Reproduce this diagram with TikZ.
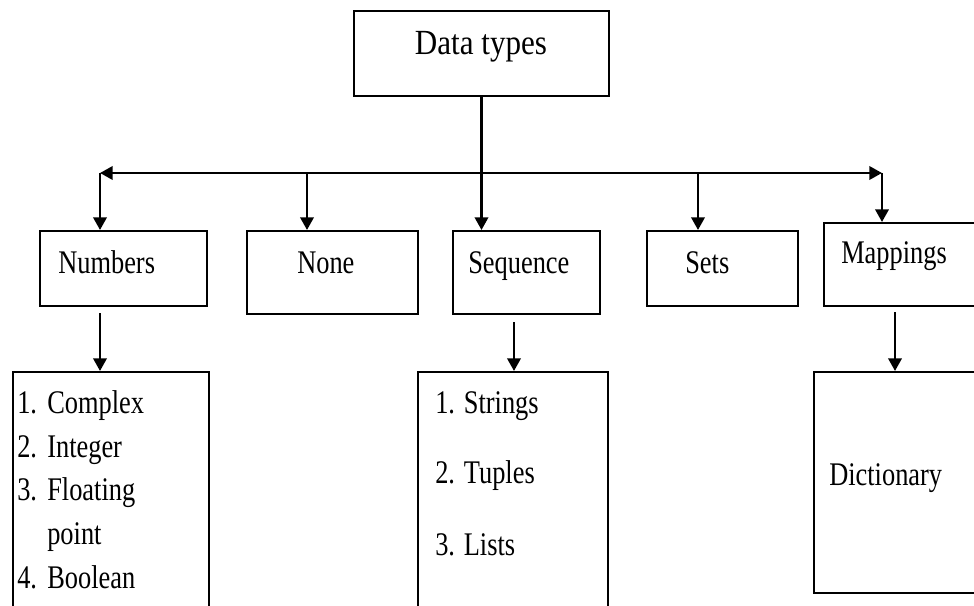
\documentclass[tikz,border=0pt]{standalone}
\usepackage{fontspec}
\setmainfont[FakeStretch=0.8]{Liberation Serif}
\newfontfamily\titlefont[FakeStretch=0.88]{Liberation Serif}
\usetikzlibrary{arrows.meta,positioning}

\tikzset{
  box/.style 2 args={draw, line width=1.5pt, inner sep=0pt, anchor=north west,
                     minimum width=#1*0.75pt, minimum height=#2*0.75pt},
  arr/.style={line width=1.9pt, -{Triangle[length=9.5pt,width=10pt]}},
  lbl/.style={anchor=base west, inner sep=0pt, font=\fontsize{24.75}{29}\selectfont},
}

\begin{document}
\begin{tikzpicture}[x=0.75pt, y=-0.75pt]
  \clip (0,0) rectangle (974,606);

  % root
  \node[box={255}{85}] (dt) at (353,10) {};
  \node[lbl, anchor=base, font=\titlefont\fontsize{26.5}{32}\selectfont] (dtt) at (481,55) {Data types};

  % second level
  \node[box={167}{75}] (num) at (39,230) {};
  \node[box={171}{83}] (none) at (246,230) {};
  \node[box={147}{83}] (seq) at (452,230) {};
  \node[box={151}{75}] (sets) at (646,230) {};
  \node[box={170}{83}] (map) at (823,222) {};

  \node[lbl] (numt) at (58,273) {Numbers};
  \node[lbl] (nonet) at (297,273) {None};
  \node[lbl] (seqt) at (468,273) {Sequence};
  \node[lbl] (setst) at (685,273) {Sets};
  \node[lbl] (mapt) at (841,263) {Mappings};

  % third level
  \node[box={196}{260}] (numl) at (12,371) {};
  \node[box={190}{260}] (seql) at (417,371) {};
  \node[box={180}{221}] (dict) at (813,371) {};

  \foreach \n/\t/\y in {1./Complex/413, 2./Integer/457, 3./Floating/500, /point/544, 4./Boolean/588}{
    \node[lbl] (numn\y) at (17,\y) {\n};
    \node[lbl] (numi\y) at (47,\y) {\t};
  }
  \foreach \t/\y [count=\i] in {1. Strings/413, 2. Tuples/483, 3. Lists/555}
    \node[lbl] (seqi\i) at (435,\y) {\t};
  \node[lbl] (dictt) at (829,485) {Dictionary};

  % bus
  \coordinate (busL) at (100,173);
  \coordinate (busR) at (882,173);
  \coordinate (tapNone) at (307,173);
  \coordinate (tapSets) at (698,173);
  \draw[arr] (dt.south |- busL) -- (busL);
  \draw[arr] (dt.south |- busR) -- (busR);
  \draw[arr] (dt.south) -- (dt.south |- seq.north);
  \draw[arr] (busL) -- (busL |- num.north);
  \draw[arr] (tapNone) -- (tapNone |- none.north);
  \draw[arr] (tapSets) -- (tapSets |- sets.north);
  \draw[arr] (busR) -- (busR |- map.north);

  % down to the lists
  \coordinate (tapNum) at (100,313);
  \coordinate (tapSeq) at (514,322);
  \coordinate (tapMap) at (895,312);
  \draw[arr] (tapNum) -- (tapNum |- numl.north);
  \draw[arr] (tapSeq) -- (tapSeq |- seql.north);
  \draw[arr] (tapMap) -- (tapMap |- dict.north);
\end{tikzpicture}
\end{document}
